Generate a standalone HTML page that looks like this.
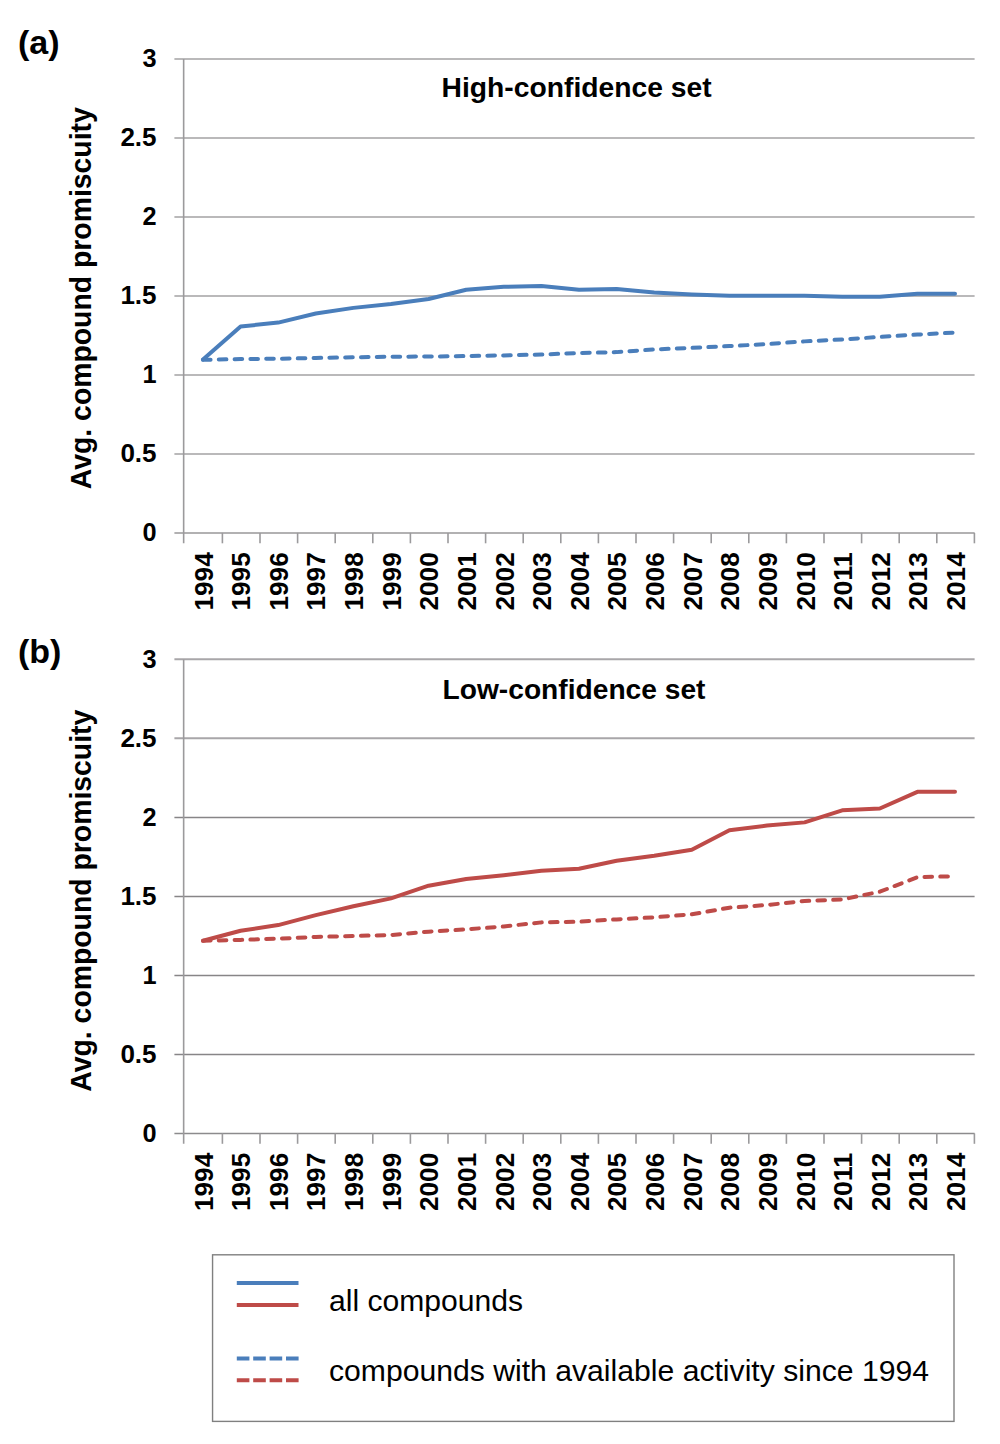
<!DOCTYPE html>
<html><head><meta charset="utf-8"><style>
html,body{margin:0;padding:0;background:#fff;}
svg{display:block;}
text{font-family:"Liberation Sans", sans-serif;fill:#000;}
.yl{font-weight:bold;font-size:25.3px;}
.xl{font-weight:bold;font-size:25.4px;}
.tt{font-weight:bold;font-size:28px;}
.at{font-weight:bold;font-size:29.5px;}
.pl{font-weight:bold;font-size:34px;}
.lg{font-size:29.7px;}
</style></head><body>
<svg width="1000" height="1444" viewBox="0 0 1000 1444">
<line x1="174.4" y1="58.90" x2="974.60" y2="58.90" stroke="#bab9ba" stroke-width="2"/>
<line x1="174.4" y1="137.90" x2="974.60" y2="137.90" stroke="#bab9ba" stroke-width="2"/>
<line x1="174.4" y1="216.90" x2="974.60" y2="216.90" stroke="#bab9ba" stroke-width="2"/>
<line x1="174.4" y1="295.90" x2="974.60" y2="295.90" stroke="#bab9ba" stroke-width="2"/>
<line x1="174.4" y1="374.90" x2="974.60" y2="374.90" stroke="#bab9ba" stroke-width="2"/>
<line x1="174.4" y1="453.90" x2="974.60" y2="453.90" stroke="#bab9ba" stroke-width="2"/>
<line x1="174.4" y1="532.90" x2="974.60" y2="532.90" stroke="#b2b1b2" stroke-width="2"/>
<line x1="183.65" y1="58.90" x2="183.65" y2="543.30" stroke="#9b9a9c" stroke-width="1.6"/>
<line x1="222.40" y1="532.90" x2="222.40" y2="543.30" stroke="#9b9a9c" stroke-width="1.6"/>
<line x1="260.00" y1="532.90" x2="260.00" y2="543.30" stroke="#9b9a9c" stroke-width="1.6"/>
<line x1="297.60" y1="532.90" x2="297.60" y2="543.30" stroke="#9b9a9c" stroke-width="1.6"/>
<line x1="335.20" y1="532.90" x2="335.20" y2="543.30" stroke="#9b9a9c" stroke-width="1.6"/>
<line x1="372.80" y1="532.90" x2="372.80" y2="543.30" stroke="#9b9a9c" stroke-width="1.6"/>
<line x1="410.40" y1="532.90" x2="410.40" y2="543.30" stroke="#9b9a9c" stroke-width="1.6"/>
<line x1="448.00" y1="532.90" x2="448.00" y2="543.30" stroke="#9b9a9c" stroke-width="1.6"/>
<line x1="485.60" y1="532.90" x2="485.60" y2="543.30" stroke="#9b9a9c" stroke-width="1.6"/>
<line x1="523.20" y1="532.90" x2="523.20" y2="543.30" stroke="#9b9a9c" stroke-width="1.6"/>
<line x1="560.80" y1="532.90" x2="560.80" y2="543.30" stroke="#9b9a9c" stroke-width="1.6"/>
<line x1="598.40" y1="532.90" x2="598.40" y2="543.30" stroke="#9b9a9c" stroke-width="1.6"/>
<line x1="636.00" y1="532.90" x2="636.00" y2="543.30" stroke="#9b9a9c" stroke-width="1.6"/>
<line x1="673.60" y1="532.90" x2="673.60" y2="543.30" stroke="#9b9a9c" stroke-width="1.6"/>
<line x1="711.20" y1="532.90" x2="711.20" y2="543.30" stroke="#9b9a9c" stroke-width="1.6"/>
<line x1="748.80" y1="532.90" x2="748.80" y2="543.30" stroke="#9b9a9c" stroke-width="1.6"/>
<line x1="786.40" y1="532.90" x2="786.40" y2="543.30" stroke="#9b9a9c" stroke-width="1.6"/>
<line x1="824.00" y1="532.90" x2="824.00" y2="543.30" stroke="#9b9a9c" stroke-width="1.6"/>
<line x1="861.60" y1="532.90" x2="861.60" y2="543.30" stroke="#9b9a9c" stroke-width="1.6"/>
<line x1="899.20" y1="532.90" x2="899.20" y2="543.30" stroke="#9b9a9c" stroke-width="1.6"/>
<line x1="936.80" y1="532.90" x2="936.80" y2="543.30" stroke="#9b9a9c" stroke-width="1.6"/>
<line x1="974.40" y1="532.90" x2="974.40" y2="543.30" stroke="#9b9a9c" stroke-width="1.6"/>
<text x="156.6" y="67.40" text-anchor="end" class="yl">3</text>
<text x="156.6" y="146.40" text-anchor="end" class="yl" textLength="36.2" lengthAdjust="spacingAndGlyphs">2.5</text>
<text x="156.6" y="225.40" text-anchor="end" class="yl">2</text>
<text x="156.6" y="304.40" text-anchor="end" class="yl" textLength="36.2" lengthAdjust="spacingAndGlyphs">1.5</text>
<text x="156.6" y="383.40" text-anchor="end" class="yl">1</text>
<text x="156.6" y="462.40" text-anchor="end" class="yl" textLength="36.2" lengthAdjust="spacingAndGlyphs">0.5</text>
<text x="156.6" y="541.40" text-anchor="end" class="yl">0</text>
<text transform="translate(212.60,552.30) rotate(-90)" text-anchor="end" class="xl" textLength="58.2" lengthAdjust="spacingAndGlyphs">1994</text>
<text transform="translate(250.22,552.30) rotate(-90)" text-anchor="end" class="xl" textLength="58.2" lengthAdjust="spacingAndGlyphs">1995</text>
<text transform="translate(287.84,552.30) rotate(-90)" text-anchor="end" class="xl" textLength="58.2" lengthAdjust="spacingAndGlyphs">1996</text>
<text transform="translate(325.46,552.30) rotate(-90)" text-anchor="end" class="xl" textLength="58.2" lengthAdjust="spacingAndGlyphs">1997</text>
<text transform="translate(363.08,552.30) rotate(-90)" text-anchor="end" class="xl" textLength="58.2" lengthAdjust="spacingAndGlyphs">1998</text>
<text transform="translate(400.70,552.30) rotate(-90)" text-anchor="end" class="xl" textLength="58.2" lengthAdjust="spacingAndGlyphs">1999</text>
<text transform="translate(438.32,552.30) rotate(-90)" text-anchor="end" class="xl" textLength="58.2" lengthAdjust="spacingAndGlyphs">2000</text>
<text transform="translate(475.94,552.30) rotate(-90)" text-anchor="end" class="xl" textLength="58.2" lengthAdjust="spacingAndGlyphs">2001</text>
<text transform="translate(513.56,552.30) rotate(-90)" text-anchor="end" class="xl" textLength="58.2" lengthAdjust="spacingAndGlyphs">2002</text>
<text transform="translate(551.18,552.30) rotate(-90)" text-anchor="end" class="xl" textLength="58.2" lengthAdjust="spacingAndGlyphs">2003</text>
<text transform="translate(588.80,552.30) rotate(-90)" text-anchor="end" class="xl" textLength="58.2" lengthAdjust="spacingAndGlyphs">2004</text>
<text transform="translate(626.42,552.30) rotate(-90)" text-anchor="end" class="xl" textLength="58.2" lengthAdjust="spacingAndGlyphs">2005</text>
<text transform="translate(664.04,552.30) rotate(-90)" text-anchor="end" class="xl" textLength="58.2" lengthAdjust="spacingAndGlyphs">2006</text>
<text transform="translate(701.66,552.30) rotate(-90)" text-anchor="end" class="xl" textLength="58.2" lengthAdjust="spacingAndGlyphs">2007</text>
<text transform="translate(739.28,552.30) rotate(-90)" text-anchor="end" class="xl" textLength="58.2" lengthAdjust="spacingAndGlyphs">2008</text>
<text transform="translate(776.90,552.30) rotate(-90)" text-anchor="end" class="xl" textLength="58.2" lengthAdjust="spacingAndGlyphs">2009</text>
<text transform="translate(814.52,552.30) rotate(-90)" text-anchor="end" class="xl" textLength="58.2" lengthAdjust="spacingAndGlyphs">2010</text>
<text transform="translate(852.14,552.30) rotate(-90)" text-anchor="end" class="xl" textLength="58.2" lengthAdjust="spacingAndGlyphs">2011</text>
<text transform="translate(889.76,552.30) rotate(-90)" text-anchor="end" class="xl" textLength="58.2" lengthAdjust="spacingAndGlyphs">2012</text>
<text transform="translate(927.38,552.30) rotate(-90)" text-anchor="end" class="xl" textLength="58.2" lengthAdjust="spacingAndGlyphs">2013</text>
<text transform="translate(965.00,552.30) rotate(-90)" text-anchor="end" class="xl" textLength="58.2" lengthAdjust="spacingAndGlyphs">2014</text>
<text x="441.6" y="96.50" class="tt" textLength="270" lengthAdjust="spacingAndGlyphs">High-confidence set</text>
<text transform="translate(90.7,298.20) rotate(-90)" text-anchor="middle" class="at" textLength="382" lengthAdjust="spacingAndGlyphs">Avg. compound promiscuity</text>
<text x="18" y="54.40" class="pl">(a)</text>
<polyline points="203.00,359.86 240.60,359.07 278.20,358.75 315.80,357.96 353.40,357.33 391.00,356.70 428.60,356.54 466.20,356.07 503.80,355.43 541.40,354.49 579.00,353.06 616.60,352.12 654.20,349.43 691.80,347.85 729.40,346.11 767.00,344.06 804.60,341.37 842.20,339.48 879.80,336.95 917.40,334.58 955.00,332.52" fill="none" stroke="#4a7ebb" stroke-width="4" stroke-dasharray="7.6 8.2" stroke-linecap="round" stroke-linejoin="round"/>
<polyline points="203.00,359.54 240.60,326.52 278.20,322.57 315.80,313.56 353.40,307.88 391.00,303.93 428.60,299.03 466.20,289.71 503.80,286.86 541.40,285.91 579.00,289.86 616.60,288.92 654.20,292.55 691.80,294.45 729.40,295.71 767.00,295.87 804.60,295.87 842.20,296.66 879.80,296.66 917.40,293.81 955.00,293.81" fill="none" stroke="#4a7ebb" stroke-width="4" stroke-linecap="round" stroke-linejoin="round"/>
<line x1="174.4" y1="659.20" x2="974.60" y2="659.20" stroke="#a8a6a9" stroke-width="2"/>
<line x1="174.4" y1="738.30" x2="974.60" y2="738.30" stroke="#a8a6a9" stroke-width="2"/>
<line x1="174.4" y1="817.40" x2="974.60" y2="817.40" stroke="#878587" stroke-width="1.5"/>
<line x1="174.4" y1="896.40" x2="974.60" y2="896.40" stroke="#878587" stroke-width="1.5"/>
<line x1="174.4" y1="975.40" x2="974.60" y2="975.40" stroke="#878587" stroke-width="1.5"/>
<line x1="174.4" y1="1054.40" x2="974.60" y2="1054.40" stroke="#878587" stroke-width="1.5"/>
<line x1="174.4" y1="1133.40" x2="974.60" y2="1133.40" stroke="#8c8b8d" stroke-width="1.5"/>
<line x1="183.65" y1="659.40" x2="183.65" y2="1143.80" stroke="#9b9a9c" stroke-width="1.6"/>
<line x1="222.40" y1="1133.40" x2="222.40" y2="1143.80" stroke="#9b9a9c" stroke-width="1.6"/>
<line x1="260.00" y1="1133.40" x2="260.00" y2="1143.80" stroke="#9b9a9c" stroke-width="1.6"/>
<line x1="297.60" y1="1133.40" x2="297.60" y2="1143.80" stroke="#9b9a9c" stroke-width="1.6"/>
<line x1="335.20" y1="1133.40" x2="335.20" y2="1143.80" stroke="#9b9a9c" stroke-width="1.6"/>
<line x1="372.80" y1="1133.40" x2="372.80" y2="1143.80" stroke="#9b9a9c" stroke-width="1.6"/>
<line x1="410.40" y1="1133.40" x2="410.40" y2="1143.80" stroke="#9b9a9c" stroke-width="1.6"/>
<line x1="448.00" y1="1133.40" x2="448.00" y2="1143.80" stroke="#9b9a9c" stroke-width="1.6"/>
<line x1="485.60" y1="1133.40" x2="485.60" y2="1143.80" stroke="#9b9a9c" stroke-width="1.6"/>
<line x1="523.20" y1="1133.40" x2="523.20" y2="1143.80" stroke="#9b9a9c" stroke-width="1.6"/>
<line x1="560.80" y1="1133.40" x2="560.80" y2="1143.80" stroke="#9b9a9c" stroke-width="1.6"/>
<line x1="598.40" y1="1133.40" x2="598.40" y2="1143.80" stroke="#9b9a9c" stroke-width="1.6"/>
<line x1="636.00" y1="1133.40" x2="636.00" y2="1143.80" stroke="#9b9a9c" stroke-width="1.6"/>
<line x1="673.60" y1="1133.40" x2="673.60" y2="1143.80" stroke="#9b9a9c" stroke-width="1.6"/>
<line x1="711.20" y1="1133.40" x2="711.20" y2="1143.80" stroke="#9b9a9c" stroke-width="1.6"/>
<line x1="748.80" y1="1133.40" x2="748.80" y2="1143.80" stroke="#9b9a9c" stroke-width="1.6"/>
<line x1="786.40" y1="1133.40" x2="786.40" y2="1143.80" stroke="#9b9a9c" stroke-width="1.6"/>
<line x1="824.00" y1="1133.40" x2="824.00" y2="1143.80" stroke="#9b9a9c" stroke-width="1.6"/>
<line x1="861.60" y1="1133.40" x2="861.60" y2="1143.80" stroke="#9b9a9c" stroke-width="1.6"/>
<line x1="899.20" y1="1133.40" x2="899.20" y2="1143.80" stroke="#9b9a9c" stroke-width="1.6"/>
<line x1="936.80" y1="1133.40" x2="936.80" y2="1143.80" stroke="#9b9a9c" stroke-width="1.6"/>
<line x1="974.40" y1="1133.40" x2="974.40" y2="1143.80" stroke="#9b9a9c" stroke-width="1.6"/>
<text x="156.6" y="667.90" text-anchor="end" class="yl">3</text>
<text x="156.6" y="746.90" text-anchor="end" class="yl" textLength="36.2" lengthAdjust="spacingAndGlyphs">2.5</text>
<text x="156.6" y="825.90" text-anchor="end" class="yl">2</text>
<text x="156.6" y="904.90" text-anchor="end" class="yl" textLength="36.2" lengthAdjust="spacingAndGlyphs">1.5</text>
<text x="156.6" y="983.90" text-anchor="end" class="yl">1</text>
<text x="156.6" y="1062.90" text-anchor="end" class="yl" textLength="36.2" lengthAdjust="spacingAndGlyphs">0.5</text>
<text x="156.6" y="1141.90" text-anchor="end" class="yl">0</text>
<text transform="translate(212.60,1152.80) rotate(-90)" text-anchor="end" class="xl" textLength="58.2" lengthAdjust="spacingAndGlyphs">1994</text>
<text transform="translate(250.22,1152.80) rotate(-90)" text-anchor="end" class="xl" textLength="58.2" lengthAdjust="spacingAndGlyphs">1995</text>
<text transform="translate(287.84,1152.80) rotate(-90)" text-anchor="end" class="xl" textLength="58.2" lengthAdjust="spacingAndGlyphs">1996</text>
<text transform="translate(325.46,1152.80) rotate(-90)" text-anchor="end" class="xl" textLength="58.2" lengthAdjust="spacingAndGlyphs">1997</text>
<text transform="translate(363.08,1152.80) rotate(-90)" text-anchor="end" class="xl" textLength="58.2" lengthAdjust="spacingAndGlyphs">1998</text>
<text transform="translate(400.70,1152.80) rotate(-90)" text-anchor="end" class="xl" textLength="58.2" lengthAdjust="spacingAndGlyphs">1999</text>
<text transform="translate(438.32,1152.80) rotate(-90)" text-anchor="end" class="xl" textLength="58.2" lengthAdjust="spacingAndGlyphs">2000</text>
<text transform="translate(475.94,1152.80) rotate(-90)" text-anchor="end" class="xl" textLength="58.2" lengthAdjust="spacingAndGlyphs">2001</text>
<text transform="translate(513.56,1152.80) rotate(-90)" text-anchor="end" class="xl" textLength="58.2" lengthAdjust="spacingAndGlyphs">2002</text>
<text transform="translate(551.18,1152.80) rotate(-90)" text-anchor="end" class="xl" textLength="58.2" lengthAdjust="spacingAndGlyphs">2003</text>
<text transform="translate(588.80,1152.80) rotate(-90)" text-anchor="end" class="xl" textLength="58.2" lengthAdjust="spacingAndGlyphs">2004</text>
<text transform="translate(626.42,1152.80) rotate(-90)" text-anchor="end" class="xl" textLength="58.2" lengthAdjust="spacingAndGlyphs">2005</text>
<text transform="translate(664.04,1152.80) rotate(-90)" text-anchor="end" class="xl" textLength="58.2" lengthAdjust="spacingAndGlyphs">2006</text>
<text transform="translate(701.66,1152.80) rotate(-90)" text-anchor="end" class="xl" textLength="58.2" lengthAdjust="spacingAndGlyphs">2007</text>
<text transform="translate(739.28,1152.80) rotate(-90)" text-anchor="end" class="xl" textLength="58.2" lengthAdjust="spacingAndGlyphs">2008</text>
<text transform="translate(776.90,1152.80) rotate(-90)" text-anchor="end" class="xl" textLength="58.2" lengthAdjust="spacingAndGlyphs">2009</text>
<text transform="translate(814.52,1152.80) rotate(-90)" text-anchor="end" class="xl" textLength="58.2" lengthAdjust="spacingAndGlyphs">2010</text>
<text transform="translate(852.14,1152.80) rotate(-90)" text-anchor="end" class="xl" textLength="58.2" lengthAdjust="spacingAndGlyphs">2011</text>
<text transform="translate(889.76,1152.80) rotate(-90)" text-anchor="end" class="xl" textLength="58.2" lengthAdjust="spacingAndGlyphs">2012</text>
<text transform="translate(927.38,1152.80) rotate(-90)" text-anchor="end" class="xl" textLength="58.2" lengthAdjust="spacingAndGlyphs">2013</text>
<text transform="translate(965.00,1152.80) rotate(-90)" text-anchor="end" class="xl" textLength="58.2" lengthAdjust="spacingAndGlyphs">2014</text>
<text x="442.5" y="698.60" class="tt" textLength="263" lengthAdjust="spacingAndGlyphs">Low-confidence set</text>
<text transform="translate(90.7,900.70) rotate(-90)" text-anchor="middle" class="at" textLength="382" lengthAdjust="spacingAndGlyphs">Avg. compound promiscuity</text>
<text x="18" y="663.20" class="pl">(b)</text>
<polyline points="203.00,940.71 240.60,939.92 278.20,938.65 315.80,936.92 353.40,935.97 391.00,935.02 428.60,931.70 466.20,929.33 503.80,926.49 541.40,922.38 579.00,921.75 616.60,919.38 654.20,917.32 691.80,914.32 729.40,907.69 767.00,905.00 804.60,901.05 842.20,899.47 879.80,891.73 917.40,877.19 955.00,876.24" fill="none" stroke="#be4b48" stroke-width="4" stroke-dasharray="7.6 8.2" stroke-linecap="round" stroke-linejoin="round"/>
<polyline points="203.00,940.71 240.60,930.75 278.20,925.07 315.80,915.11 353.40,906.26 391.00,898.36 428.60,885.72 466.20,879.09 503.80,875.14 541.40,870.71 579.00,868.82 616.60,860.76 654.20,855.70 691.80,849.70 729.40,830.27 767.00,825.53 804.60,822.37 842.20,810.36 879.80,808.46 917.40,791.87 955.00,791.87" fill="none" stroke="#be4b48" stroke-width="4" stroke-linecap="round" stroke-linejoin="round"/>
<rect x="212.56" y="1254.8" width="741.44" height="166.6" fill="none" stroke="#808080" stroke-width="1.4"/>
<line x1="236.8" y1="1283" x2="298.5" y2="1283" stroke="#4a7ebb" stroke-width="4"/>
<line x1="236.8" y1="1304.9" x2="298.5" y2="1304.9" stroke="#be4b48" stroke-width="4"/>
<line x1="236.8" y1="1358.5" x2="298.9" y2="1358.5" stroke="#4a7ebb" stroke-width="4" stroke-dasharray="12.6 3.8"/>
<line x1="236.8" y1="1380.2" x2="298.9" y2="1380.2" stroke="#be4b48" stroke-width="4" stroke-dasharray="12.6 3.8"/>
<text x="329" y="1310.8" class="lg" textLength="194" lengthAdjust="spacingAndGlyphs">all compounds</text>
<text x="329" y="1380.8" class="lg" textLength="600" lengthAdjust="spacingAndGlyphs">compounds with available activity since 1994</text>
</svg>
</body></html>
